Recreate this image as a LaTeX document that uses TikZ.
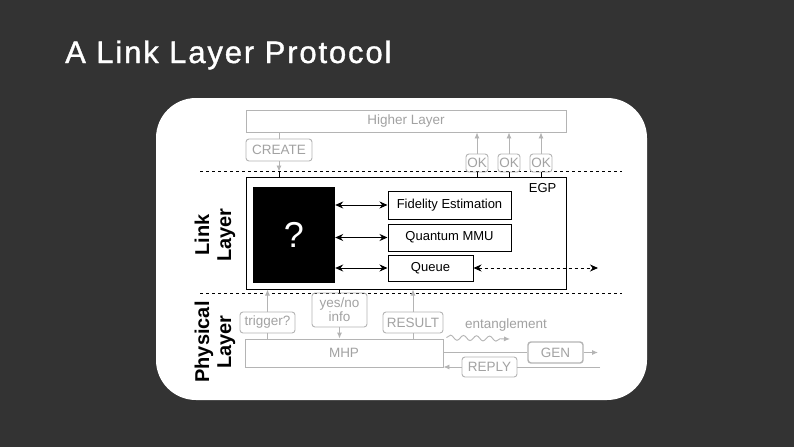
\documentclass[tikz,border=0pt]{standalone}
\usepackage{fontspec}
\setmainfont{Liberation Sans}
\newfontfamily\titlefont[LetterSpace=6, FakeBold=1.2]{Liberation Sans}
\usetikzlibrary{arrows.meta,calc,decorations.pathmorphing}

\definecolor{slidebg}{HTML}{333333}
\definecolor{boxgray}{HTML}{B4B4B4}
\definecolor{textgray}{HTML}{A2A2A2}

\tikzset{
  graybox/.style={draw=boxgray, text=textgray, line width=0.9pt, inner sep=0pt,
    font=\fontsize{13.5}{15}\selectfont},
  roundbox/.style={graybox, rounded corners=3pt},
  blackbox/.style={draw=black, line width=1pt, inner sep=0pt, font=\fontsize{13}{15}\selectfont},
  grayarrow/.style={draw=boxgray, line width=0.9pt, -{Latex[length=6pt,width=5pt]}},
  grayline/.style={draw=boxgray, line width=0.9pt},
  layerlab/.style={rotate=90, align=center, font=\bfseries\fontsize{20}{22}\selectfont}
}

\begin{document}
\begin{tikzpicture}[>={Stealth[length=8pt,width=7pt]}, x=1pt, y=-1pt]
  \useasboundingbox (0,0) rectangle (794,447);
  \fill[slidebg] (0,0) rectangle (794,447);
  \fill[white, rounded corners=40pt] (156,98) rectangle (647,400);
  \node[anchor=base west, text=white, inner sep=0pt, font=\fontsize{31}{36}\titlefont] (title) at (65,63) {A Link Layer Protocol};

  % layer borders
  \coordinate (topL) at (200,171);
  \coordinate (topR) at (622,171);
  \coordinate (botL) at (200,293);
  \coordinate (botR) at (622,293);
  \draw[dashed] (topL) -- (topR);
  \draw[dashed] (botL) -- (botR);
  \node[layerlab] (linklab) at (215,235) {Link\\Layer};
  \node[layerlab] (physlab) at (215,342) {Physical\\Layer};

  % higher layer
  \node[graybox, minimum width=320, minimum height=22] (higher) at (406,121) {Higher Layer};
  \node[roundbox, minimum width=66, minimum height=22] (create) at (279,150) {CREATE};
  \node[roundbox, minimum width=22, minimum height=18] (ok1) at (477,163) {OK};
  \node[roundbox, minimum width=22, minimum height=18] (ok2) at (509,163) {OK};
  \node[roundbox, minimum width=22, minimum height=18] (ok3) at (541,163) {OK};

  % link layer
  \node[blackbox, minimum width=320, minimum height=112] (egp) at (406,233) {};
  \node[anchor=north east, font=\fontsize{13}{15}\selectfont, inner sep=0pt] (egplab) at ($(egp.north east)+(-10,7)$) {EGP};
  \node[fill=black, text=white, minimum width=82, minimum height=96, inner sep=0pt,
    font=\fontsize{36}{40}\selectfont] (blk) at (294,235) {?};
  \node[blackbox, minimum width=123, minimum height=28] (fid) at (449.5,205) {Fidelity Estimation};
  \node[blackbox, minimum width=123, minimum height=27] (mmu) at (449.5,237.5) {Quantum MMU};
  \node[blackbox, minimum width=85, minimum height=26] (queue) at (430.5,268) {Queue};
  \coordinate (qend) at (598,268);

  % physical layer
  \node[roundbox, minimum width=55, minimum height=21] (trig) at (267.5,322.5) {trigger?};
  \node[roundbox, minimum width=55, minimum height=34, align=center,
    font=\fontsize{13.5}{14}\selectfont] (yesno) at (339.5,310) {yes/no\\info};
  \node[roundbox, minimum width=60, minimum height=21] (result) at (413,322.5) {RESULT};
  \node[graybox, minimum width=198, minimum height=28] (mhp) at (344,353) {MHP};
  \node[roundbox, minimum width=55, minimum height=21, line width=1.4pt] (gen) at (555.5,352.5) {GEN};
  \node[roundbox, minimum width=55, minimum height=20] (reply) at (489.5,367) {REPLY};
  \node[text=textgray, font=\fontsize{13.5}{15}\selectfont, inner sep=0pt] (ent) at (506,325) {entanglement};
  \coordinate (wend) at (510,339);
  \coordinate (genend) at (598,352.5);
  \coordinate (replyst) at (600,367);

  % higher layer links
  \draw[grayline] (create.north |- higher.south) -- (create.north);
  \draw[grayarrow, shorten >=5pt] (create.south) -- (create.south |- egp.north);
  \draw (create.south |- egp.north) -- ++(0,-5);
  \foreach \k in {ok1,ok2,ok3} {
    \draw[grayarrow] (\k.north) -- (\k.north |- higher.south);
    \draw (\k.south) -- (\k.south |- egp.north);
  }

  % inside egp
  \foreach \b in {fid,mmu,queue}
    \draw[<->, line width=1pt] (blk.east |- \b.west) -- (\b.west);
  \draw[<->, dashed, line width=0.9pt] (queue.east) -- (qend);

  % physical layer links
  \draw[grayarrow] (trig.north) -- (trig.north |- egp.south);
  \draw[grayline] (trig.south) -- (trig.south |- mhp.north);
  \draw (yesno.north) -- (yesno.north |- egp.south);
  \draw[grayarrow] (yesno.south) -- (yesno.south |- mhp.north);
  \draw[grayarrow] (result.north) -- (result.north |- egp.south);
  \draw[grayline] (result.south) -- (result.south |- mhp.north);
  \draw[grayarrow, decorate, decoration={snake, amplitude=2.5pt, segment length=13pt, post length=6pt}]
    ($(mhp.north east)+(3,-1)$) -- (wend);
  \draw[grayline] (mhp.east |- gen.west) -- (gen.west);
  \draw[grayarrow] (gen.east) -- (genend);
  \draw[grayline] (replyst) -- (reply.east);
  \draw[grayarrow] (reply.west) -- (mhp.east |- reply.west);
\end{tikzpicture}
\end{document}
